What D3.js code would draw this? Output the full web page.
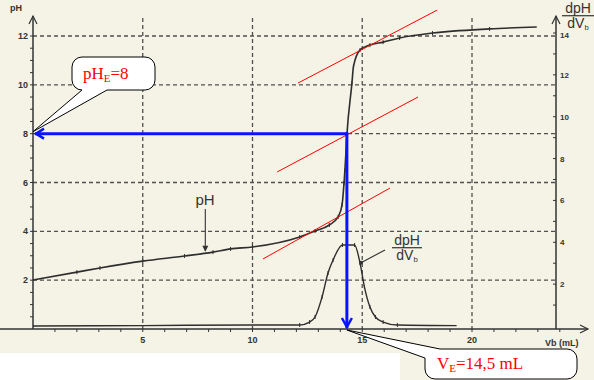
<!DOCTYPE html>
<html>
<head>
<meta charset="utf-8">
<script src="https://cdn.jsdelivr.net/npm/d3@7"></script>
<style>
body { margin: 0; background: #fff; }
</style>
</head>
<body>
<svg id="chart"></svg>
<script>
// titration data
var volumes  = [0, 2.0, 3.05, 5.0, 6.9, 8.2, 9.0, 10.0, 12.15, 12.85, 13.5, 13.9, 14.08, 14.17, 14.21, 14.3, 14.53, 14.6, 14.9, 15.35, 15.95, 16.7, 18.2, 20.8, 22.95];
var phValues = [2.01, 2.33, 2.5, 2.78, 2.99, 3.15, 3.28, 3.36, 3.77, 4.01, 4.26, 4.59, 5.08, 5.98, 6.5, 7.94, 10.07, 10.75, 11.43, 11.63, 11.75, 11.92, 12.12, 12.29, 12.37];

var derivVolumes = [0, 5, 10, 12.15, 12.6, 12.85, 13.17, 13.44, 13.67, 14.1, 14.65, 14.9, 15.1, 15.35, 15.6, 15.95, 16.6, 19.3];
var derivValues  = [0, 0.02, 0.05, 0.05, 0.19, 0.43, 1.39, 2.53, 3.15, 3.87, 3.87, 3.0, 1.86, 0.91, 0.43, 0.19, 0.05, 0.02];

var xTicks = [5, 10, 15, 20];
var phTicks = [2, 4, 6, 8, 10, 12];
var derivTicks = [2, 4, 6, 8, 10, 12, 14];

// tangents drawn in red (each one: start [V, pH], end [V, pH])
var tangents = [
    [[10.48, 2.87], [16.26, 5.77]],
    [[11.12, 6.43], [17.54, 9.5]],
    [[12.07, 10.07], [18.41, 13.06]]
];

var vE = 14.3, pHE = 8;

var svgWidth = 594, svgHeight = 380;

var svg = d3.select('#chart')
    .attr("width", svgWidth)
    .attr("height", svgHeight)
    .attr("font-family", '"Liberation Sans", Arial, sans-serif');

// scanned paper
svg.append("rect").attr("x", 0).attr("y", 0).attr("width", svgWidth).attr("height", 353).attr("fill", "#f4f3e6");
svg.append("rect").attr("x", 400).attr("y", 353).attr("width", 194).attr("height", 27).attr("fill", "#f4f3e6");

var xScale = d3.scaleLinear().domain([0, 25]).range([33, 33 + 25 * 21.95]);
var yScale = d3.scaleLinear().domain([0, 12]).range([329, 36]);
var dScale = d3.scaleLinear().domain([0, 14]).range([326, 33]);

var x0 = xScale(0), yAxis = yScale(0), xRight = 556;
var ink = "#333";

// dashed grid
svg.selectAll(".hgrid")
    .data(phTicks)
    .enter()
    .append("line")
    .attr("class", "hgrid")
    .attr("x1", x0).attr("x2", xRight)
    .attr("y1", function (d) { return yScale(d); })
    .attr("y2", function (d) { return yScale(d); })
    .attr("stroke", "#505050").attr("stroke-width", 1.3)
    .attr("stroke-dasharray", "4,3");

svg.selectAll(".vgrid")
    .data(xTicks)
    .enter()
    .append("line")
    .attr("class", "vgrid")
    .attr("x1", function (d) { return xScale(d); })
    .attr("x2", function (d) { return xScale(d); })
    .attr("y1", 18).attr("y2", yAxis)
    .attr("stroke", "#505050").attr("stroke-width", 1.3)
    .attr("stroke-dasharray", "4,3");

// axes lines with open arrow heads
function chevron(points) {
    svg.append("polyline")
        .attr("points", points.map(function (p) { return p.join(","); }).join(" "))
        .attr("fill", "none").attr("stroke", ink).attr("stroke-width", 1.2);
}

svg.append("line").attr("x1", 0).attr("x2", 588).attr("y1", yAxis).attr("y2", yAxis)
    .attr("stroke", ink).attr("stroke-width", 1.5);
chevron([[580, yAxis - 4], [588, yAxis], [580, yAxis + 4]]);

svg.append("line").attr("x1", x0).attr("x2", x0).attr("y1", yAxis).attr("y2", 16)
    .attr("stroke", ink).attr("stroke-width", 1.5);
chevron([[x0 - 4, 24], [x0, 16], [x0 + 4, 24]]);

svg.append("line").attr("x1", xRight).attr("x2", xRight).attr("y1", yAxis).attr("y2", 16)
    .attr("stroke", ink).attr("stroke-width", 1.5);
chevron([[xRight - 4, 24], [xRight, 16], [xRight + 4, 24]]);

// minor ticks
svg.selectAll(".xminor")
    .data(d3.range(1, 25))
    .enter()
    .append("line")
    .attr("x1", function (d) { return xScale(d); })
    .attr("x2", function (d) { return xScale(d); })
    .attr("y1", yAxis).attr("y2", yAxis + 3)
    .attr("stroke", ink);

svg.selectAll(".yminor")
    .data(d3.range(1, 25).map(function (d) { return d / 2; }))
    .enter()
    .append("line")
    .attr("x1", x0 - 3).attr("x2", x0)
    .attr("y1", function (d) { return yScale(d); })
    .attr("y2", function (d) { return yScale(d); })
    .attr("stroke", ink);

svg.selectAll(".dminor")
    .data(d3.range(1, 15))
    .enter()
    .append("line")
    .attr("x1", xRight - 3).attr("x2", xRight)
    .attr("y1", function (d) { return dScale(d); })
    .attr("y2", function (d) { return dScale(d); })
    .attr("stroke", ink);

// tick labels
svg.selectAll(".xlab")
    .data(xTicks)
    .enter()
    .append("text")
    .attr("x", function (d) { return xScale(d); })
    .attr("y", 343)
    .attr("text-anchor", "middle")
    .attr("font-size", 9).attr("font-weight", "bold").attr("fill", ink)
    .text(function (d) { return d; });

svg.selectAll(".ylab")
    .data(phTicks)
    .enter()
    .append("text")
    .attr("x", x0 - 5)
    .attr("y", function (d) { return yScale(d) + 3; })
    .attr("text-anchor", "end")
    .attr("font-size", 9).attr("font-weight", "bold").attr("fill", ink)
    .text(function (d) { return d; });

svg.selectAll(".dlab")
    .data(derivTicks)
    .enter()
    .append("text")
    .attr("x", xRight + 4)
    .attr("y", function (d) { return dScale(d) + (d == 14 ? 5 : 3); })
    .attr("font-size", 8).attr("font-weight", "bold").attr("fill", ink)
    .text(function (d) { return d; });

svg.append("text").attr("x", 10).attr("y", 11)
    .attr("font-size", 9).attr("font-weight", "bold").attr("fill", ink).text("pH");

// axis title dpH / dVb
function fraction(cx, yTop, size, w) {
    var g = svg.append("g");
    g.append("text").attr("x", cx).attr("y", yTop + size * 0.8)
        .attr("text-anchor", "middle").attr("font-size", size).attr("fill", ink).text("dpH");
    g.append("line").attr("x1", cx - w / 2).attr("x2", cx + w / 2)
        .attr("y1", yTop + size * 0.98).attr("y2", yTop + size * 0.98)
        .attr("stroke", ink).attr("stroke-width", 1.2);
    var t = g.append("text").attr("x", cx).attr("y", yTop + size * 1.85)
        .attr("text-anchor", "middle").attr("font-size", size).attr("fill", ink);
    t.append("tspan").text("dV");
    t.append("tspan").attr("font-size", size * 0.55).attr("dy", 2).text("b");
}
fraction(578, 2, 14, 32);
fraction(407, 234, 14, 30);

// curves
var phData = volumes.map(function (v, i) { return [v, phValues[i]]; });
var dData = derivVolumes.map(function (v, i) { return [v, derivValues[i]]; });

var phLine = d3.line()
    .x(function (d) { return xScale(d[0]); })
    .y(function (d) { return yScale(d[1]); })
    .curve(d3.curveMonotoneX);

var dLine = d3.line()
    .x(function (d) { return xScale(d[0]); })
    .y(function (d) { return dScale(d[1]); })
    .curve(d3.curveMonotoneX);

svg.append("path").datum(phData).attr("d", phLine)
    .attr("fill", "none").attr("stroke", "#2e2e2e").attr("stroke-width", 1.6);
svg.append("path").datum(dData).attr("d", dLine)
    .attr("fill", "none").attr("stroke", "#2e2e2e").attr("stroke-width", 1.4);

// measurement marks on the curves
svg.selectAll(".phmark")
    .data(phData.slice(1, -1))
    .enter()
    .append("line")
    .attr("x1", function (d) { return xScale(d[0]); })
    .attr("x2", function (d) { return xScale(d[0]); })
    .attr("y1", function (d) { return yScale(d[1]) - 2; })
    .attr("y2", function (d) { return yScale(d[1]) + 2; })
    .attr("stroke", "#2e2e2e");

svg.selectAll(".dmark")
    .data(dData.slice(3, -1))
    .enter()
    .append("line")
    .attr("x1", function (d) { return xScale(d[0]); })
    .attr("x2", function (d) { return xScale(d[0]); })
    .attr("y1", function (d) { return dScale(d[1]) - 2; })
    .attr("y2", function (d) { return dScale(d[1]) + 2; })
    .attr("stroke", "#2e2e2e");

// curve labels with leaders
svg.append("text").attr("x", 205).attr("y", 205).attr("text-anchor", "middle")
    .attr("font-size", 15).attr("fill", ink).text("pH");
var phEnd = [xScale(7.85), yScale(3.12)];
svg.append("line").attr("x1", phEnd[0]).attr("x2", phEnd[0]).attr("y1", 209).attr("y2", phEnd[1] - 2)
    .attr("stroke", ink).attr("stroke-width", 1.1);
svg.append("path")
    .attr("d", "M" + (phEnd[0] - 3) + "," + (phEnd[1] - 7) + "L" + phEnd[0] + "," + (phEnd[1] - 1) + "L" + (phEnd[0] + 3) + "," + (phEnd[1] - 7) + "Z")
    .attr("fill", ink);

var dEnd = [xScale(14.9), dScale(3.0)];
svg.append("line").attr("x1", 385).attr("y1", 250).attr("x2", dEnd[0]).attr("y2", dEnd[1])
    .attr("stroke", ink).attr("stroke-width", 1.1);
svg.append("circle").attr("cx", dEnd[0] + 1).attr("cy", dEnd[1] - 0.5).attr("r", 2).attr("fill", ink);

// tangents
svg.selectAll(".tangent")
    .data(tangents)
    .enter()
    .append("line")
    .attr("x1", function (d) { return xScale(d[0][0]); })
    .attr("y1", function (d) { return yScale(d[0][1]); })
    .attr("x2", function (d) { return xScale(d[1][0]); })
    .attr("y2", function (d) { return yScale(d[1][1]); })
    .attr("stroke", "#ff0000").attr("stroke-width", 1);

// equivalence point arrows
var ex = xScale(vE), ey = yScale(pHE);
var blue = "#0a14ff";
svg.append("line").attr("x1", ex).attr("y1", ey).attr("x2", x0 + 2).attr("y2", ey)
    .attr("stroke", blue).attr("stroke-width", 3);
svg.append("polyline")
    .attr("points", (x0 + 11) + "," + (ey - 5) + " " + (x0 + 3) + "," + ey + " " + (x0 + 11) + "," + (ey + 5))
    .attr("fill", "none").attr("stroke", blue).attr("stroke-width", 2.5);
svg.append("line").attr("x1", ex).attr("y1", ey - 1.5).attr("x2", ex).attr("y2", yAxis - 1)
    .attr("stroke", blue).attr("stroke-width", 3);
svg.append("polyline")
    .attr("points", (ex - 5) + "," + (yAxis - 11) + " " + ex + "," + (yAxis - 2) + " " + (ex + 5) + "," + (yAxis - 11))
    .attr("fill", "none").attr("stroke", blue).attr("stroke-width", 2.5);

// callouts
var r = 10;
var box1 = { x0: 72, y0: 57, x1: 155, y1: 90 };
var tip1 = [x0, ey - 2];
var path1 = "M" + (box1.x0 + r) + "," + box1.y0 +
    "H" + (box1.x1 - r) + "A" + r + "," + r + " 0 0 1 " + box1.x1 + "," + (box1.y0 + r) +
    "V" + (box1.y1 - r) + "A" + r + "," + r + " 0 0 1 " + (box1.x1 - r) + "," + box1.y1 +
    "H107L" + tip1[0] + "," + tip1[1] + "L82," + box1.y1 +
    "H" + (box1.x0 + r) + "A" + r + "," + r + " 0 0 1 " + box1.x0 + "," + (box1.y1 - r) +
    "V" + (box1.y0 + r) + "A" + r + "," + r + " 0 0 1 " + (box1.x0 + r) + "," + box1.y0 + "Z";
svg.append("path").attr("d", path1).attr("fill", "#fff").attr("stroke", "#000").attr("stroke-width", 1);

var box2 = { x0: 425, y0: 349, x1: 577, y1: 379 };
var tip2 = [ex, yAxis + 1];
var path2 = "M440," + box2.y0 +
    "H" + (box2.x1 - r) + "A" + r + "," + r + " 0 0 1 " + box2.x1 + "," + (box2.y0 + r) +
    "V" + (box2.y1 - r) + "A" + r + "," + r + " 0 0 1 " + (box2.x1 - r) + "," + box2.y1 +
    "H" + (box2.x0 + r) + "A" + r + "," + r + " 0 0 1 " + box2.x0 + "," + (box2.y1 - r) +
    "V358L" + tip2[0] + "," + tip2[1] + "Z";
svg.append("path").attr("d", path2).attr("fill", "#fff").attr("stroke", "#000").attr("stroke-width", 1);

svg.append("text").attr("x", 545).attr("y", 346)
    .attr("font-size", 9).attr("font-weight", "bold").attr("fill", ink).text("Vb (mL)");

var serif = '"Liberation Serif", "Times New Roman", serif';
var t1 = svg.append("text").attr("x", 83).attr("y", 79)
    .attr("font-family", serif).attr("font-size", 17).attr("fill", "#ff0000");
t1.append("tspan").text("pH");
t1.append("tspan").attr("font-size", 11).attr("dy", 3).text("E");
t1.append("tspan").attr("dy", -3).text("=" + pHE);

var t2 = svg.append("text").attr("x", 437).attr("y", 369)
    .attr("font-family", serif).attr("font-size", 17).attr("fill", "#ff0000");
t2.append("tspan").text("V");
t2.append("tspan").attr("font-size", 11).attr("dy", 3).text("E");
t2.append("tspan").attr("dy", -3).text("=14,5 mL");
</script>
</body>
</html>
